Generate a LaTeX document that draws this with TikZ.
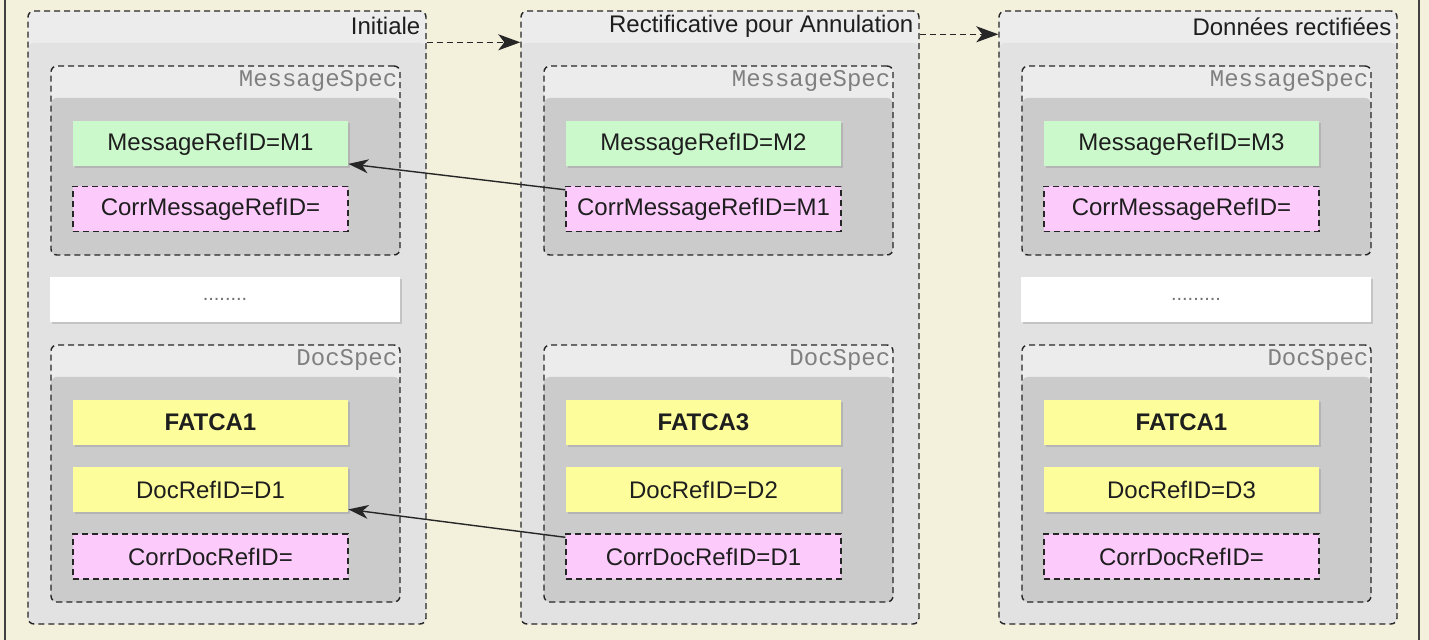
\documentclass[tikz,border=0pt,12pt]{standalone}
\usepackage{fontspec}
\setmainfont{Liberation Sans}
\setmonofont{Liberation Mono}
\usetikzlibrary{arrows.meta,shadows}
\definecolor{bgpage}{HTML}{F3F0DC}
\definecolor{band}{HTML}{ECECEC}
\definecolor{panelbody}{HTML}{E2E2E2}
\definecolor{specbody}{HTML}{CBCBCB}
\definecolor{refgreen}{HTML}{CCF9CC}
\definecolor{corrpink}{HTML}{FCCBFC}
\definecolor{docyellow}{HTML}{FDFD9C}
\definecolor{ink}{HTML}{1E1E1E}
\tikzset{
  dashline/.style={draw=black!85,line width=0.7pt,dash pattern=on 3pt off 2pt},
  container/.style={dashline,rounded corners=3pt,fill=band,inner sep=0pt,
    path picture={\fill[#1] ([yshift=-16pt]path picture bounding box.north west)
      rectangle (path picture bounding box.south east);}},
  speclabel/.style={anchor=east,inner sep=0pt,font=\ttfamily,text=black!50},
  field/.style={minimum width=137.5pt,minimum height=22.5pt,inner sep=0pt,text=ink},
  plain/.style={field,drop shadow={shadow xshift=0.9pt,shadow yshift=-0.9pt,opacity=0.3}},
  corr/.style={field,dashline,fill=corrpink},
  flow/.style={dashline,-{Stealth[length=11pt,width=8pt,inset=3pt]}},
  link/.style={draw=black!85,line width=0.7pt,-{Stealth[length=10pt,width=7pt,inset=3pt]}}
}
\begin{document}
\begin{tikzpicture}[x=0.5pt,y=-0.5pt]
  \fill[bgpage] (0,0) rectangle (1429,640);
  \useasboundingbox (0,0) rectangle (1429,640);
  \draw[black!75,line width=1pt] (5,0) -- (5,640);
  \draw[black!75,line width=1pt] (1419,0) -- (1419,640);
  % the three messages
  \foreach \i/\x/\ttl/\m/\cm/\f/\d/\cd in {1/227/Initiale/M1/{}/FATCA1/D1/{},
      2/720/Rectificative pour Annulation/M2/M1/FATCA3/D2/D1,
      3/1198/Données rectifiées/M3/{}/FATCA1/D3/{}}{
    \node (p\i) [container=panelbody,minimum width=199pt,minimum height=306.5pt] at (\x,317.5) {};
    \node (t\i) [anchor=east,inner sep=0pt,text=ink] at ([xshift=-3pt,yshift=-8pt]p\i.north east) {\ttl};
    % MessageSpec
    \node (ms\i) [container=specbody,minimum width=174.5pt,minimum height=94.5pt] at (\x-1.5,160.5) {};
    \node (msl\i) [speclabel] at ([xshift=-1.5pt,yshift=-8pt]ms\i.north east) {MessageSpec};
    \node (mr\i) [plain,fill=refgreen] at (\x-16.5,144) {MessageRefID=\m};
    \node (cm\i) [corr] at (\x-16.5,209) {CorrMessageRefID=\cm};
    % DocSpec
    \node (ds\i) [container=specbody,minimum width=174.5pt,minimum height=128.5pt] at (\x-1.5,473.5) {};
    \node (dsl\i) [speclabel] at ([xshift=-1.5pt,yshift=-8pt]ds\i.north east) {DocSpec};
    \node (fa\i) [plain,fill=docyellow,font=\bfseries] at (\x-16.5,422.5) {\f};
    \node (dr\i) [plain,fill=docyellow] at (\x-16.5,489.5) {DocRefID=\d};
    \node (cd\i) [corr] at (\x-16.5,556.5) {CorrDocRefID=\cd};
  }
  \node (dots1) [plain,fill=white,minimum width=175pt,font=\footnotesize,text=black!55] at (225,299.5) {........};
  \node (dots3) [plain,fill=white,minimum width=175pt,font=\footnotesize,text=black!55] at (1196,299.5) {.........};
  % links
  \draw[flow] ([yshift=-16pt]p1.north east) -- ([yshift=-16pt]p2.north west);
  \draw[flow] ([yshift=-12pt]p2.north east) -- ([yshift=-12pt]p3.north west);
  \draw[link] ([yshift=-2pt]cm2.north west) -- ([yshift=1.5pt]mr1.south east);
  \draw[link] ([yshift=-2pt]cd2.north west) -- ([yshift=1.5pt]dr1.south east);
\end{tikzpicture}
\end{document}
